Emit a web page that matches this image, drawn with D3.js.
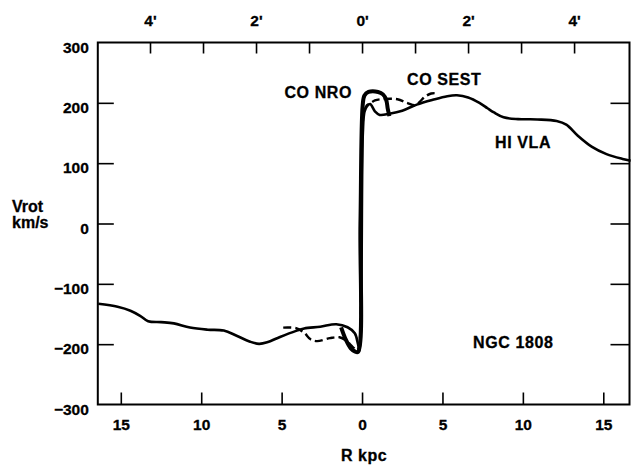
<!DOCTYPE html>
<html>
<head>
<meta charset="utf-8">
<script src="https://cdn.jsdelivr.net/npm/d3@7"></script>
<style>
  body { margin: 0; background: #fff; }
  text { font-family: "Liberation Sans", Arial, sans-serif; font-weight: bold; fill: #000; }
</style>
</head>
<body>
<svg width="631" height="467"></svg>
<script>
// HI VLA rotation curve (R in kpc, Vrot in km/s)
var hiR = [-16.4,-15.2,-14.4,-13.8,-13.3,-12.5,-11.7,-10.7,-9.6,-8.6,-7.8,-6.95,-6.4,-5.9,-5.1,-4.1,-3.6,-2.6,-1.6,-0.9,-0.45,-0.25,-0.15,0.05,0.15,0.3,0.5,0.8,1.1,1.7,2.5,3.4,4.4,5.3,5.9,6.6,7.3,7.8,8.2,8.8,9.7,10.9,12.1,12.7,13.4,14.3,15.2,16.2,16.7];
var hiV = [-133,-138,-144.5,-153,-162,-163.5,-165.5,-172.5,-176,-177.5,-186,-196,-199.5,-197,-188,-178,-174,-171,-167,-172,-182,-200,-211,150,185,194,198,186,180,182,187,197,205,211,212.5,209,200,191,184,176,173,172.5,170,164,146,127,115,107,104];

// CO NRO
var nroR = [-1.3,-1.0,-0.7,-0.45,-0.25,-0.1,0.04,0.15,0.4,1.0,1.3,1.5,1.6,1.7];
var nroV = [-172,-193,-207,-212,-213,0,196,212,218,218,214,205,190,178];

// CO SEST
var sestR = [-4.9,-4.1,-3.6,-3.2,-2.8,-2.0,-1.4,-0.95,-0.6,-0.3,-0.1,0.1,0.3,0.5,0.8,1.2,2.2,2.8,3.3,3.6,3.9,4.3,4.6];
var sestV = [-172.5,-173.5,-181,-192,-195,-190,-188.5,-195,-204,-210,0,180,196,199,204,206,206,200,196,202,210,215.5,216];

var kpcTicks = [-15,-10,-5,0,5,10,15];
var arcTicks = [-4,-3,-2,-1,0,1,2,3,4];
var arcLabels = [-4,-2,0,2,4];
var vTicks = [-300,-200,-100,0,100,200,300];
var kpcPerArcmin = 3.296;

// annotations [text, R, V, anchor]
var notes = [
    ["CO NRO", -0.62, 208, "end"],
    ["CO SEST", 2.8, 229.6, "start"],
    ["HI VLA", 8.27, 125, "start"],
    ["NGC 1808", 6.9, -206, "start"]
];

var pL = 97.8, pR = 629.5, pT = 42.5, pB = 404.5;

var svg = d3.select("svg");

var x = d3.scaleLinear().domain([-16.43, 16.63]).range([pL, pR]);
var xTop = d3.scaleLinear().domain(x.domain().map(function (d) { return d / kpcPerArcmin; })).range([pL, pR]);
var y = d3.scaleLinear().domain([-300, 300]).range([pB, pT]);

// axes
var gB = svg.append("g").attr("transform", "translate(0," + pB + ")")
    .call(d3.axisBottom(x).tickValues(kpcTicks).tickSize(-12).tickPadding(14)
        .tickFormat(function (d) { return Math.abs(d); }));
var gT = svg.append("g").attr("transform", "translate(0," + pT + ")")
    .call(d3.axisTop(xTop).tickValues(arcTicks).tickSize(-11).tickPadding(17)
        .tickFormat(function (d) { return arcLabels.indexOf(d) >= 0 ? Math.abs(d) + "'" : ""; }));
var gL = svg.append("g").attr("transform", "translate(" + pL + ",0)")
    .call(d3.axisLeft(y).tickValues(vTicks).tickSize(-16).tickPadding(9));
var gR = svg.append("g").attr("transform", "translate(" + pR + ",0)")
    .call(d3.axisRight(y).tickValues(vTicks.slice(1, -1)).tickSize(-19).tickFormat(""));

svg.selectAll(".domain").remove();
svg.selectAll(".tick line").attr("stroke", "#000").attr("stroke-width", 1.6);
svg.selectAll(".tick text").attr("font-size", 15.5).attr("font-family", null)
    .attr("stroke", "#000").attr("stroke-width", 0.3);
gL.selectAll(".tick text").attr("dy", "0.62em");
gL.selectAll(".tick").filter(function (d) { return Math.abs(d) === 300; }).select("line").remove();

// frame
svg.append("rect")
    .attr("x", pL).attr("y", pT)
    .attr("width", pR - pL).attr("height", pB - pT)
    .attr("fill", "none").attr("stroke", "#000").attr("stroke-width", 2);

// axis titles
svg.append("text").attr("x", x(0) + 2).attr("y", 461).attr("text-anchor", "middle")
    .attr("font-size", 16).attr("letter-spacing", 0.5).attr("stroke", "#000").attr("stroke-width", 0.3)
    .text("R kpc");
svg.append("text").attr("x", 12).attr("y", 212).attr("font-size", 16)
    .attr("stroke", "#000").attr("stroke-width", 0.3).text("Vrot");
svg.append("text").attr("x", 12).attr("y", 228).attr("font-size", 16)
    .attr("stroke", "#000").attr("stroke-width", 0.3).text("km/s");

// curves
var line = d3.line()
    .x(function (d) { return x(d[0]); })
    .y(function (d) { return y(d[1]); })
    .curve(d3.curveCatmullRom.alpha(0.5));

function pairs(rs, vs) { return rs.map(function (r, i) { return [r, vs[i]]; }); }

svg.append("path").datum(pairs(sestR, sestV))
    .attr("d", line).attr("fill", "none").attr("stroke", "#000")
    .attr("stroke-width", 2.4).attr("stroke-dasharray", "8,4");
svg.append("path").datum(pairs(hiR, hiV))
    .attr("d", line).attr("fill", "none").attr("stroke", "#000")
    .attr("stroke-width", 2.6).attr("stroke-linejoin", "round");
svg.append("path").datum(pairs(nroR, nroV))
    .attr("d", line).attr("fill", "none").attr("stroke", "#000")
    .attr("stroke-width", 4).attr("stroke-linejoin", "round");

// labels
svg.selectAll(".note").data(notes).enter().append("text")
    .attr("class", "note")
    .attr("x", function (d) { return x(d[1]); })
    .attr("y", function (d) { return y(d[2]); })
    .attr("text-anchor", function (d) { return d[3]; })
    .attr("font-size", 16)
    .attr("letter-spacing", 0.6)
    .attr("stroke", "#000").attr("stroke-width", 0.3)
    .text(function (d) { return d[0]; });
</script>
</body>
</html>
